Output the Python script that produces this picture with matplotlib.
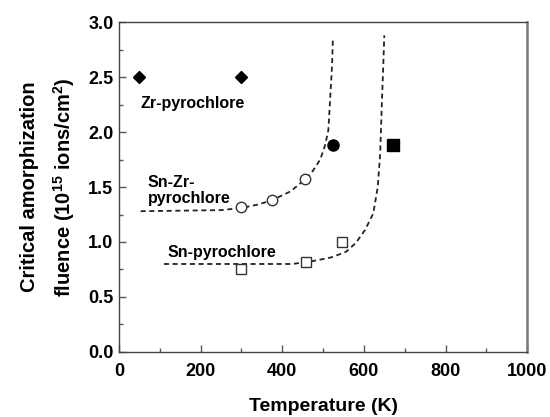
import matplotlib
matplotlib.use("Agg")
import matplotlib.pyplot as plt
from matplotlib.ticker import MultipleLocator, FormatStrFormatter

plt.rcParams['font.family'] = ['Liberation Sans', 'DejaVu Sans']
plt.rcParams['font.weight'] = 'bold'
plt.rcParams['mathtext.fontset'] = 'custom'
plt.rcParams['mathtext.rm'] = 'Liberation Sans:bold'
plt.rcParams['mathtext.bf'] = 'Liberation Sans:bold'
plt.rcParams['mathtext.default'] = 'rm'

# measured points
zr_T = [50, 300]
zr_F = [2.5, 2.5]

snzr_T = [300, 375, 455]
snzr_F = [1.315, 1.38, 1.57]
snzr_crit_T = [525]
snzr_crit_F = [1.88]

sn_T = [298, 457, 546]
sn_F = [0.755, 0.815, 1.0]
sn_crit_T = [672]
sn_crit_F = [1.88]

# dashed fit curves
snzr_fit_T = [53, 150, 250, 301, 340, 375, 420, 453, 472, 493, 505, 513, 519, 522, 524]
snzr_fit_F = [1.28, 1.285, 1.29, 1.31, 1.34, 1.38, 1.46, 1.56, 1.63, 1.75, 1.88, 2.02, 2.41, 2.6, 2.84]

sn_fit_T = [110, 250, 350, 424, 466, 520, 556, 580, 603, 623, 634, 640, 644, 647, 650]
sn_fit_F = [0.80, 0.80, 0.80, 0.80, 0.82, 0.86, 0.91, 0.99, 1.11, 1.26, 1.50, 1.81, 2.26, 2.55, 2.88]

fig = plt.figure(figsize=(5.5, 4.17), dpi=100)
ax = fig.add_axes([0.2164, 0.156, 0.742, 0.791])

dash = (0, (2.8, 2.0))
ax.plot(snzr_fit_T, snzr_fit_F, color='#222222', linestyle=dash, linewidth=1.3)
ax.plot(sn_fit_T, sn_fit_F, color='#222222', linestyle=dash, linewidth=1.3)

ax.plot(zr_T, zr_F, 'D', color='black', markersize=6.5, linestyle='none')
ax.plot(snzr_T, snzr_F, 'o', mfc='white', mec='#333333', mew=1.0, markersize=7.5, linestyle='none')
ax.plot(snzr_crit_T, snzr_crit_F, 'o', color='black', markersize=8, linestyle='none')
ax.plot(sn_T, sn_F, 's', mfc='white', mec='#333333', mew=1.0, markersize=7.5, linestyle='none')
ax.plot(sn_crit_T, sn_crit_F, 's', color='black', markersize=8, linestyle='none')

ax.text(52, 2.26, 'Zr-pyrochlore', fontsize=11.5, fontweight='bold', ha='left', va='center')
ax.text(71, 1.47, 'Sn-Zr-\npyrochlore', fontsize=11.5, fontweight='bold', ha='left', va='center',
        linespacing=1.1)
ax.text(118, 0.90, 'Sn-pyrochlore', fontsize=11.5, fontweight='bold', ha='left', va='center')

ax.set_xlim(0, 1000)
ax.set_ylim(0, 3.0)
ax.xaxis.set_major_locator(MultipleLocator(200))
ax.xaxis.set_minor_locator(MultipleLocator(100))
ax.yaxis.set_major_locator(MultipleLocator(0.5))
ax.yaxis.set_minor_locator(MultipleLocator(0.25))
ax.yaxis.set_major_formatter(FormatStrFormatter('%.1f'))
ax.tick_params(which='both', direction='in', top=False, right=False, labelsize=13, width=1.0,
               color='#555555')
ax.tick_params(which='major', length=5)
ax.tick_params(which='minor', length=3)
ax.tick_params(axis='x', which='major', pad=8)
ax.tick_params(axis='y', which='major', pad=4)
for lbl in ax.get_xticklabels() + ax.get_yticklabels():
    lbl.set_fontweight('bold')

for side in ['left', 'bottom', 'top']:
    ax.spines[side].set_color('#444444')
    ax.spines[side].set_linewidth(1.0)
ax.spines['right'].set_color('#777777')
ax.spines['right'].set_linewidth(1.8)

ax.set_xlabel('Temperature (K)', fontsize=14, fontweight='bold', labelpad=13)
ax.set_ylabel('Critical amorphization\nfluence (10$^{15}$ ions/cm$^{2}$)', fontsize=14.5,
              fontweight='bold', labelpad=8, linespacing=1.6)

fig.savefig('out.png', dpi=100)
